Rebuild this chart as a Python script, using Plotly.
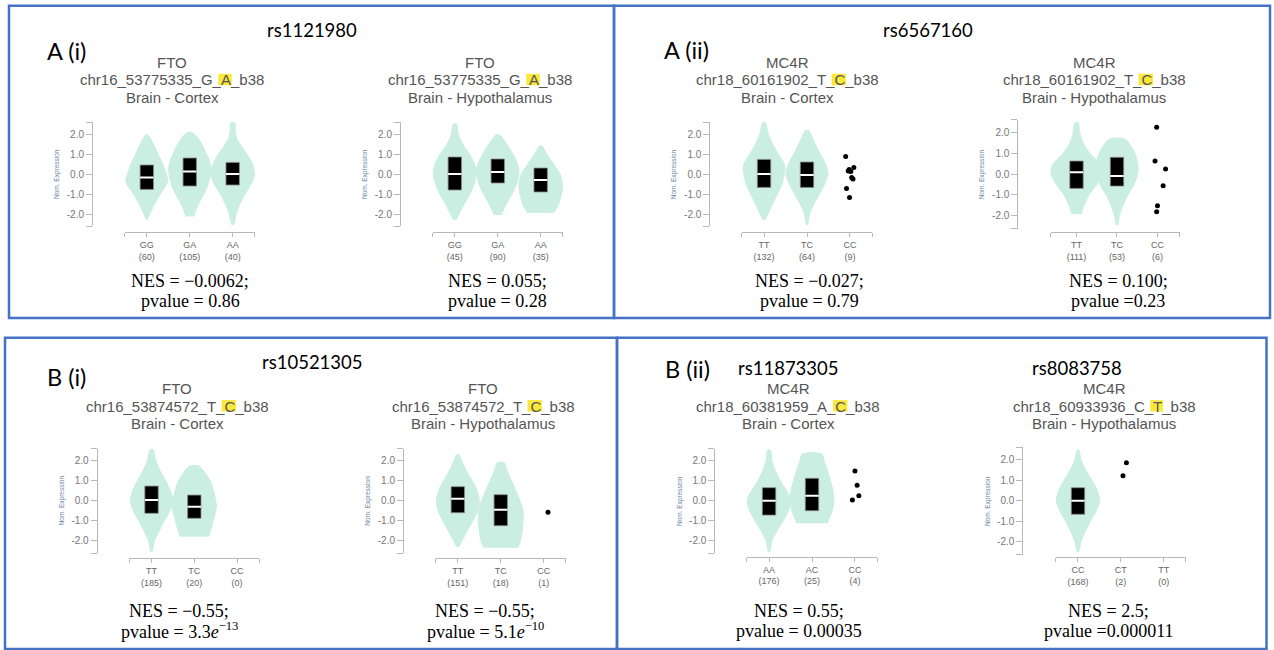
import plotly.graph_objects as go

W, H = 1274, 650

# ===================== DATA =====================
# Panel A(i) – FTO, Brain - Cortex
P1_GENO = ["GG", "GA", "AA"]
P1_N = [60, 105, 40]
P1_VY = [[-2.3, -2.0, -1.5, -1.0, -0.6, -0.35, 0.0, 0.5, 1.0, 1.5, 1.95],
         [-2.13, -2.0, -1.5, -1.0, -0.5, 0.0, 0.3, 0.7, 1.0, 1.5, 1.9, 2.08],
         [-2.55, -2.3, -2.0, -1.5, -1.0, -0.5, 0.0, 0.5, 1.0, 1.4, 1.8, 2.2, 2.55]]
P1_VW = [[0.0, 0.07, 0.18, 0.31, 0.44, 0.49, 0.45, 0.37, 0.26, 0.15, 0.03],
         [0.08, 0.11, 0.2, 0.33, 0.43, 0.48, 0.49, 0.45, 0.39, 0.28, 0.15, 0.05],
         [0.02, 0.05, 0.08, 0.17, 0.29, 0.43, 0.51, 0.46, 0.33, 0.2, 0.09, 0.06, 0.05]]
P1_Q1 = [-0.77, -0.6, -0.55]
P1_MED = [-0.17, 0.12, 0.0]
P1_Q3 = [0.45, 0.8, 0.58]
P1_DOT_CAT, P1_DOT_DX, P1_DOT_Y = [], [], []

# Panel A(i) – FTO, Brain - Hypothalamus
P2_GENO = ["GG", "GA", "AA"]
P2_N = [45, 90, 35]
P2_VY = [[-2.3, -2.0, -1.5, -1.0, -0.5, 0.0, 0.5, 1.0, 1.5, 2.0, 2.5],
         [-2.05, -1.5, -1.0, -0.5, 0.0, 0.3, 0.8, 1.3, 1.7, 1.95],
         [-1.95, -1.6, -1.2, -0.8, -0.4, 0.0, 0.5, 1.0, 1.4]]
P2_VW = [[0.03, 0.1, 0.22, 0.35, 0.45, 0.5, 0.46, 0.34, 0.18, 0.08, 0.04],
         [0.08, 0.2, 0.33, 0.44, 0.49, 0.49, 0.4, 0.27, 0.14, 0.05],
         [0.3, 0.4, 0.46, 0.5, 0.5, 0.45, 0.3, 0.14, 0.03]]
P2_Q1 = [-0.8, -0.45, -0.9]
P2_MED = [0.0, 0.1, -0.3]
P2_Q3 = [0.85, 0.75, 0.3]
P2_DOT_CAT, P2_DOT_DX, P2_DOT_Y = [], [], []

# Panel A(ii) – MC4R, Brain - Cortex
P3_GENO = ["TT", "TC", "CC"]
P3_N = [132, 64, 9]
P3_VY = [[-2.3, -2.0, -1.5, -1.0, -0.5, 0.0, 0.3, 0.6, 1.0, 1.5, 2.0, 2.57],
         [-2.55, -2.2, -2.0, -1.5, -1.0, -0.5, 0.0, 0.5, 1.0, 1.5, 1.9, 2.17],
         []]
P3_VW = [[0.02, 0.09, 0.2, 0.31, 0.42, 0.47, 0.49, 0.45, 0.33, 0.2, 0.1, 0.03],
         [0.02, 0.04, 0.06, 0.16, 0.29, 0.41, 0.49, 0.43, 0.31, 0.19, 0.11, 0.04],
         []]
P3_Q1 = [-0.67, -0.67, None]
P3_MED = [0.0, -0.05, None]
P3_Q3 = [0.73, 0.6, None]
P3_DOT_CAT = [2, 2, 2, 2, 2, 2, 2, 2, 2]
P3_DOT_DX = [-0.10, 0.09, -0.02, 0.02, 0.04, 0.07, -0.08, -0.01, -0.04]
P3_DOT_Y = [0.88, 0.32, 0.22, 0.12, -0.17, -0.25, -0.72, -1.17, 0.15]

# Panel A(ii) – MC4R, Brain - Hypothalamus
P4_GENO = ["TT", "TC", "CC"]
P4_N = [111, 53, 6]
P4_VY = [[-1.92, -1.7, -1.4, -1.0, -0.5, 0.0, 0.2, 0.5, 1.0, 1.5, 2.0, 2.46],
         [-2.45, -2.2, -2.0, -1.5, -1.0, -0.5, 0.1, 0.6, 1.0, 1.4, 1.68],
         []]
P4_VW = [[0.12, 0.15, 0.21, 0.31, 0.5, 0.63, 0.65, 0.57, 0.33, 0.16, 0.08, 0.04],
         [0.02, 0.04, 0.06, 0.15, 0.27, 0.42, 0.52, 0.5, 0.44, 0.32, 0.19],
         []]
P4_Q1 = [-0.69, -0.58, None]
P4_MED = [0.08, -0.1, None]
P4_Q3 = [0.62, 0.8, None]
P4_DOT_CAT = [2, 2, 2, 2, 2, 2]
P4_DOT_DX = [-0.02, -0.06, 0.2, 0.14, 0.0, -0.02]
P4_DOT_Y = [2.24, 0.62, 0.24, -0.56, -1.52, -1.81]

# Panel B(i) – FTO, Brain - Cortex
P5_GENO = ["TT", "TC", "CC"]
P5_N = [185, 20, 0]
P5_VY = [[-2.55, -2.2, -2.0, -1.5, -1.0, -0.5, 0.0, 0.5, 1.0, 1.5, 2.0, 2.57],
         [-1.8, -1.5, -1.0, -0.3, 0.0, 0.5, 1.0, 1.4, 1.73],
         []]
P5_VW = [[0.02, 0.05, 0.07, 0.18, 0.3, 0.43, 0.5, 0.44, 0.33, 0.2, 0.1, 0.03],
         [0.33, 0.38, 0.44, 0.52, 0.5, 0.45, 0.37, 0.25, 0.11],
         []]
P5_Q1 = [-0.63, -0.88, None]
P5_MED = [0.03, -0.3, None]
P5_Q3 = [0.73, 0.28, None]
P5_DOT_CAT, P5_DOT_DX, P5_DOT_Y = [], [], []

# Panel B(i) – FTO, Brain - Hypothalamus
P6_GENO = ["TT", "TC", "CC"]
P6_N = [151, 18, 1]
P6_VY = [[-2.3, -2.0, -1.5, -1.0, -0.5, 0.0, 0.5, 1.0, 1.5, 2.0, 2.3],
         [-2.35, -2.0, -1.5, -1.0, -0.5, 0.0, 0.5, 1.0, 1.5, 1.9],
         []]
P6_VW = [[0.03, 0.1, 0.22, 0.35, 0.46, 0.5, 0.45, 0.33, 0.2, 0.09, 0.03],
         [0.4, 0.46, 0.5, 0.52, 0.52, 0.45, 0.35, 0.25, 0.15, 0.08],
         []]
P6_Q1 = [-0.6, -1.25, None]
P6_MED = [0.1, -0.45, None]
P6_Q3 = [0.7, 0.3, None]
P6_DOT_CAT = [2]
P6_DOT_DX = [0.1]
P6_DOT_Y = [-0.58]

# Panel B(ii) – MC4R, Brain - Cortex
P7_GENO = ["AA", "AC", "CC"]
P7_N = [176, 25, 4]
P7_VY = [[-2.55, -2.2, -2.0, -1.5, -1.0, -0.5, 0.0, 0.5, 1.0, 1.5, 2.0, 2.53],
         [-1.13, -1.0, -0.5, 0.0, 0.12, 0.5, 1.0, 1.5, 2.0, 2.33],
         []]
P7_VW = [[0.02, 0.05, 0.07, 0.19, 0.33, 0.45, 0.51, 0.41, 0.26, 0.15, 0.07, 0.03],
         [0.35, 0.38, 0.47, 0.51, 0.51, 0.49, 0.43, 0.36, 0.28, 0.23],
         []]
P7_Q1 = [-0.72, -0.5, None]
P7_MED = [0.0, 0.25, None]
P7_Q3 = [0.65, 1.12, None]
P7_DOT_CAT = [2, 2, 2, 2]
P7_DOT_DX = [0.0, 0.05, 0.09, -0.06]
P7_DOT_Y = [1.48, 0.77, 0.25, 0.03]

# Panel B(ii) – MC4R, Brain - Hypothalamus
P8_GENO = ["CC", "CT", "TT"]
P8_N = [168, 2, 0]
P8_VY = [[-2.48, -2.2, -2.0, -1.5, -1.0, -0.5, 0.0, 0.5, 1.0, 1.5, 2.0, 2.46], [], []]
P8_VW = [[0.02, 0.05, 0.07, 0.17, 0.29, 0.42, 0.51, 0.45, 0.32, 0.18, 0.07, 0.02], [], []]
P8_Q1 = [-0.66, None, None]
P8_MED = [0.0, None, None]
P8_Q3 = [0.63, None, None]
P8_DOT_CAT = [1, 1]
P8_DOT_DX = [0.13, 0.05]
P8_DOT_Y = [1.84, 1.21]

# Texts
GENES = ["FTO", "FTO", "MC4R", "MC4R", "FTO", "FTO", "MC4R", "MC4R"]
VARIANTS = [("chr16_53775335_G_", "A", "_b38"), ("chr16_53775335_G_", "A", "_b38"),
            ("chr18_60161902_T_", "C", "_b38"), ("chr18_60161902_T_", "C", "_b38"),
            ("chr16_53874572_T_", "C", "_b38"), ("chr16_53874572_T_", "C", "_b38"),
            ("chr18_60381959_A_", "C", "_b38"), ("chr18_60933936_C_", "T", "_b38")]
TISSUES = ["Brain - Cortex", "Brain - Hypothalamus"] * 4
NES = ["NES = −0.0062;", "NES = 0.055;", "NES = −0.027;", "NES = 0.100;",
       "NES = −0.55;", "NES = −0.55;", "NES = 0.55;", "NES = 2.5;"]
PVAL = ["pvalue = 0.86", "pvalue = 0.28", "pvalue = 0.79", "pvalue =0.23",
        "pvalue = 3.3<i>e</i><sup>−13</sup>", "pvalue = 5.1<i>e</i><sup>−10</sup>",
        "pvalue = 0.00035", "pvalue =0.000011"]
SNPS = ["rs1121980", "rs6567160", "rs10521305", "rs11873305", "rs8083758"]
SECTION_LABELS = ["A (i)", "A (ii)", "B (i)", "B (ii)"]
Y_TICKS = [-2, -1, 0, 1, 2]
Y_TICKTEXT = ["-2.0", "-1.0", "0.0", "1.0", "2.0"]

DATA = [
    (P1_GENO, P1_N, P1_VY, P1_VW, P1_Q1, P1_MED, P1_Q3, P1_DOT_CAT, P1_DOT_DX, P1_DOT_Y),
    (P2_GENO, P2_N, P2_VY, P2_VW, P2_Q1, P2_MED, P2_Q3, P2_DOT_CAT, P2_DOT_DX, P2_DOT_Y),
    (P3_GENO, P3_N, P3_VY, P3_VW, P3_Q1, P3_MED, P3_Q3, P3_DOT_CAT, P3_DOT_DX, P3_DOT_Y),
    (P4_GENO, P4_N, P4_VY, P4_VW, P4_Q1, P4_MED, P4_Q3, P4_DOT_CAT, P4_DOT_DX, P4_DOT_Y),
    (P5_GENO, P5_N, P5_VY, P5_VW, P5_Q1, P5_MED, P5_Q3, P5_DOT_CAT, P5_DOT_DX, P5_DOT_Y),
    (P6_GENO, P6_N, P6_VY, P6_VW, P6_Q1, P6_MED, P6_Q3, P6_DOT_CAT, P6_DOT_DX, P6_DOT_Y),
    (P7_GENO, P7_N, P7_VY, P7_VW, P7_Q1, P7_MED, P7_Q3, P7_DOT_CAT, P7_DOT_DX, P7_DOT_Y),
    (P8_GENO, P8_N, P8_VY, P8_VW, P8_Q1, P8_MED, P8_Q3, P8_DOT_CAT, P8_DOT_DX, P8_DOT_Y),
]

# ===================== LAYOUT (pixels) =====================
STD_XR = [-0.52, 2.52]
PANEL_GEOM = [
    dict(yax=92.0, xl=124.5, xr=255.0, xay=232.0, zero=174.0, ys=20.0, xrange=STD_XR, tcx=172, ty=62, ncx=190, ny=281),
    dict(yax=400.0, xl=432.5, xr=563.0, xay=232.0, zero=174.0, ys=20.0, xrange=STD_XR, tcx=480, ty=62, ncx=497, ny=281),
    dict(yax=709.3, xl=741.7, xr=872.3, xay=232.0, zero=174.0, ys=20.0, xrange=STD_XR, tcx=787, ty=62, ncx=809, ny=281),
    dict(yax=1017.3, xl=1050.7, xr=1180.0, xay=232.0, zero=174.0, ys=20.85, xrange=[-0.637, 2.556], tcx=1094, ty=62, ncx=1118, ny=281),
    dict(yax=96.7, xl=129.3, xr=259.3, xay=558.3, zero=500.7, ys=20.0, xrange=STD_XR, tcx=177, ty=388.3, ncx=179, ny=611),
    dict(yax=403.0, xl=435.5, xr=566.0, xay=558.0, zero=500.7, ys=20.0, xrange=STD_XR, tcx=483, ty=388.3, ncx=485, ny=611),
    dict(yax=714.3, xl=746.7, xr=877.3, xay=556.7, zero=500.7, ys=20.0, xrange=STD_XR, tcx=788, ty=388.3, ncx=799, ny=611),
    dict(yax=1022.3, xl=1055.7, xr=1186.0, xay=557.3, zero=500.7, ys=20.6, xrange=STD_XR, tcx=1104, ty=388.3, ncx=1108, ny=611),
]
SNP_POS = [(312, 30), (928, 30), (312, 362), (788, 368), (1077, 368)]
LABEL_POS = [(45, 51), (662, 50), (45, 377), (663, 369)]
BORDERS = [(9, 5.7, 614, 318), (614, 5.7, 1270, 318), (5, 337.7, 617, 649), (617, 337.7, 1266.5, 649)]

VIOLIN = "#cbeee2"
AXC = "#b8b8b8"
TITLE_C = "#555555"
BOX_HALF_PX = 6.7
Y_LO, Y_HI = -2.62, 2.6

ARIAL_W = {'c': 500, 'h': 556, 'r': 333, '_': 556, 'G': 778, 'A': 667, 'T': 611,
           'C': 722, 'b': 556}


def text_w(s, size):
    return sum(ARIAL_W.get(ch, 556) for ch in s) / 1000.0 * size


def px(x):
    return x / W


def py(y):
    return 1 - y / H


fig = go.Figure()
layout_axes = {}
annotations = []
shapes = []


def ann(text, x, y, size, family="Liberation Sans", color="#000", xanchor="center",
        yanchor="middle", angle=0):
    annotations.append(dict(text=text, x=px(x), y=py(y), xref="paper", yref="paper",
                            showarrow=False, xanchor=xanchor, yanchor=yanchor,
                            textangle=angle, font=dict(size=size, family=family, color=color)))


for i, (geo, dat) in enumerate(zip(PANEL_GEOM, DATA), start=1):
    geno, n, vy, vw, q1, med, q3, dcat, ddx, dy = dat
    xa = "x" if i == 1 else f"x{i}"
    ya = "y" if i == 1 else f"y{i}"
    xr0, xr1 = geo["xrange"]
    spacing = (geo["xr"] - geo["xl"]) / (xr1 - xr0)
    bw = BOX_HALF_PX / spacing

    # violins
    for k in range(3):
        if vy[k]:
            xs = [k + w for w in vw[k]] + [k - w for w in reversed(vw[k])]
            yv = list(vy[k]) + list(reversed(vy[k]))
            fig.add_trace(go.Scatter(x=xs, y=yv, xaxis=xa, yaxis=ya, mode="lines",
                                     fill="toself", fillcolor=VIOLIN,
                                     line=dict(color=VIOLIN, width=1, shape="spline", smoothing=0.8),
                                     hoverinfo="skip", showlegend=False))
    # boxes
    for k in range(3):
        if q1[k] is not None:
            fig.add_trace(go.Scatter(x=[k - bw, k + bw, k + bw, k - bw, k - bw],
                                     y=[q1[k], q1[k], q3[k], q3[k], q1[k]],
                                     xaxis=xa, yaxis=ya, mode="lines", fill="toself",
                                     fillcolor="#000000", line=dict(color="#8a8a8a", width=0.8),
                                     hoverinfo="skip", showlegend=False))
            fig.add_trace(go.Scatter(x=[k - bw, k + bw], y=[med[k], med[k]], xaxis=xa, yaxis=ya,
                                     mode="lines", line=dict(color="#ffffff", width=2),
                                     hoverinfo="skip", showlegend=False))
    # points
    if dcat:
        fig.add_trace(go.Scatter(x=[c + d for c, d in zip(dcat, ddx)], y=dy, xaxis=xa, yaxis=ya,
                                 mode="markers", marker=dict(size=5, color="#000000"),
                                 hoverinfo="skip", showlegend=False))

    xkey = "xaxis" if i == 1 else f"xaxis{i}"
    ykey = "yaxis" if i == 1 else f"yaxis{i}"
    layout_axes[xkey] = dict(
        domain=[px(geo["xl"]), px(geo["xr"])], range=[xr0, xr1], anchor="free",
        position=py(geo["xay"]), showline=True, linecolor=AXC, linewidth=1,
        ticks="outside", ticklen=4, tickcolor=AXC,
        tickvals=[xr0 + 0.004, 0, 1, 2, xr1 - 0.004],
        ticktext=[""] + [f"{g}<br>({c})" for g, c in zip(geno, n)] + [""],
        tickfont=dict(size=9, color="#666666", family="Liberation Sans"),
        showgrid=False, zeroline=False, fixedrange=True)
    y_top = geo["zero"] - Y_HI * geo["ys"]
    y_bot = geo["zero"] - Y_LO * geo["ys"]
    layout_axes[ykey] = dict(
        domain=[py(y_bot), py(y_top)], range=[Y_LO, Y_HI], anchor="free",
        position=px(geo["yax"]), showline=True, linecolor=AXC, linewidth=1,
        ticks="outside", ticklen=6, tickcolor=AXC,
        tickvals=[Y_LO + 0.005] + Y_TICKS + [Y_HI - 0.005],
        ticktext=[""] + Y_TICKTEXT + [""],
        tickfont=dict(size=10, color="#777777", family="Liberation Sans"),
        showgrid=False, zeroline=False, fixedrange=True)

    # y-axis title
    ann("Nom. Expression", geo["yax"] - 35, geo["zero"], 6.5, color="#6d86a6", angle=-90)

    # titles
    tsize = 15
    ann(GENES[i - 1], geo["tcx"], geo["ty"], tsize, color=TITLE_C)
    pre, al, suf = VARIANTS[i - 1]
    full = pre + al + suf
    left = geo["tcx"] - text_w(full, tsize) / 2
    l0 = left + text_w(pre, tsize)
    l1 = l0 + text_w(al, tsize)
    yv = geo["ty"] + 17.8
    shapes.append(dict(type="rect", xref="paper", yref="paper", x0=px(l0 - 2.5), x1=px(l1 + 1),
                       y0=py(yv + 5.5), y1=py(yv - 6), fillcolor="#fbe83c",
                       line=dict(width=0), layer="below"))
    ann(full, geo["tcx"], yv, tsize, color=TITLE_C)
    ann(TISSUES[i - 1], geo["tcx"], geo["ty"] + 35.6, tsize, color=TITLE_C)

    # NES / pvalue
    ann(NES[i - 1], geo["ncx"], geo["ny"], 18, family="Liberation Serif", color="#000000")
    ann(PVAL[i - 1], geo["ncx"], geo["ny"] + 19.5, 18, family="Liberation Serif", color="#000000")

for s, (x, y) in zip(SNPS, SNP_POS):
    ann(s, x, y, 18.5, family="Lato", color="#000000")
for s, (x, y) in zip(SECTION_LABELS, LABEL_POS):
    ann(s, x, y, 23.5, family="Lato", color="#000000", xanchor="left")

for (x0, y0, x1, y1) in BORDERS:
    shapes.append(dict(type="rect", xref="paper", yref="paper", x0=px(x0), x1=px(x1),
                       y0=py(y1), y1=py(y0), line=dict(color="#4472c4", width=2.5),
                       fillcolor="rgba(0,0,0,0)", layer="above"))

fig.update_layout(width=W, height=H, autosize=False, margin=dict(l=0, r=0, t=0, b=0),
                  paper_bgcolor="#ffffff", plot_bgcolor="rgba(0,0,0,0)",
                  showlegend=False, annotations=annotations, shapes=shapes, **layout_axes)
fig.write_html("out.html", config={"displayModeBar": False},
               post_script="document.body.style.margin='0px';document.body.style.overflow='hidden';")
